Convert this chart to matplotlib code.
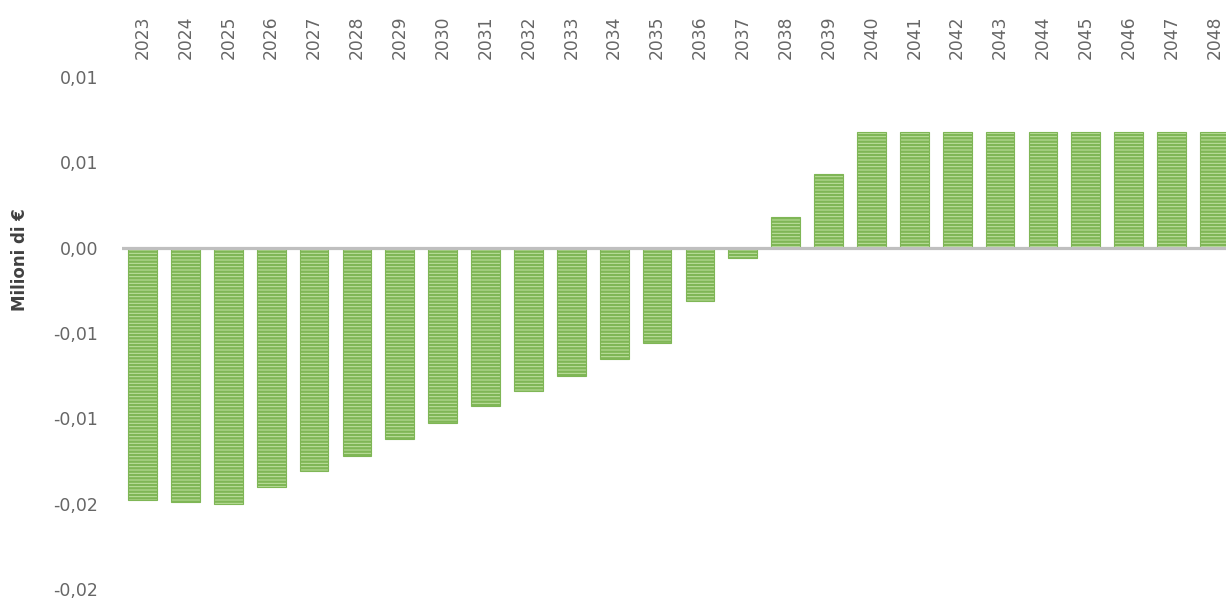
import matplotlib.pyplot as plt
import numpy as np

# anni e saldo annuo (milioni di euro)
anni = [str(a) for a in range(2023, 2049)]
saldo = [-0.0148, -0.0149, -0.0150, -0.0140, -0.0131, -0.0122, -0.0112,
         -0.0103, -0.0093, -0.0084, -0.0075, -0.0065, -0.0056, -0.0031,
         -0.0006, 0.0018, 0.0043,
         0.0068, 0.0068, 0.0068, 0.0068, 0.0068, 0.0068, 0.0068, 0.0068, 0.0068]
y_ticks = [0.01, 0.005, 0.0, -0.005, -0.01, -0.015, -0.02]

plt.rcParams['hatch.linewidth'] = 1.7
plt.rcParams['font.family'] = 'DejaVu Sans'

fig = plt.figure(figsize=(12.26, 6.01), dpi=100)
ax = fig.add_axes([122/1226, 12/601, 1104/1226, 512/601])

x = np.arange(len(anni))
ax.bar(x, saldo, width=0.67, color='#c2e2a4', edgecolor='#7fb656',
       linewidth=0.8, hatch='-----', zorder=2)
ax.axhline(0, color='#bfbfbf', lw=2.3, zorder=3)

ax.set_xlim(-0.48, 25.27)
ax.set_ylim(-0.02, 0.01)

ax.xaxis.tick_top()
ax.set_xticks(x)
ax.set_xticklabels(anni, rotation=90, fontsize=12.3, color='#666666')
ax.set_yticks(y_ticks)
# etichette a due decimali con la virgola
ax.set_yticklabels([('%.2f' % round(v + 1e-9 * np.sign(v), 2)).replace('.', ',')
                    for v in y_ticks], fontsize=12.5, color='#666666')
ax.tick_params(axis='x', length=0, pad=13)
ax.tick_params(axis='y', length=0, pad=17)

for s in ax.spines.values():
    s.set_visible(False)

fig.text(20/1226, 1 - 260/601, 'Milioni di €', rotation=90, ha='center',
         va='center', fontsize=12, fontweight='bold', color='#404040')

fig.savefig('out.png', dpi=100)
